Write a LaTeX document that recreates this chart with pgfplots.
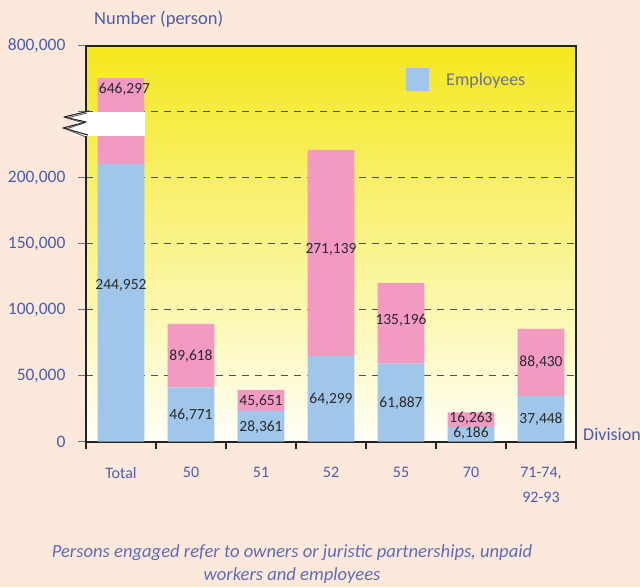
\documentclass[border=0pt]{standalone}
\usepackage{pgfplots}
\pgfplotsset{compat=1.18}
\usepackage{fontspec}
\setmainfont{Carlito}
\definecolor{bgpeach}{HTML}{FDE8DC}
\definecolor{barblue}{HTML}{A0C7EA}
\definecolor{barpink}{HTML}{F29AC2}
\definecolor{labblue}{HTML}{4B5DAA}
\definecolor{capblue}{HTML}{5F6DB6}
\definecolor{leggray}{HTML}{6B7394}
\definecolor{gridcol}{HTML}{505050}
\definecolor{axiscol}{HTML}{222222}
\definecolor{tickgray}{HTML}{707070}
\definecolor{gradtop}{HTML}{F4E81C}
\definecolor{gradmid}{HTML}{FAF3AE}
\definecolor{gradbot}{HTML}{FFFFF8}
\definecolor{valtext}{HTML}{2A2A2A}
\tikzset{val/.style={font=\fontsize{15.5}{17}\selectfont, text=valtext, inner sep=0pt}}
\begin{document}
\begin{tikzpicture}
\fill[bgpeach] (0,0) rectangle (640pt,587pt);
\useasboundingbox (0,0) rectangle (640pt,587pt);
\begin{axis}[
  at={(86pt,145.3pt)}, anchor=south west,
  width=490pt, height=396pt, scale only axis,
  xmin=-0.5, xmax=6.5, ymin=0, ymax=300000,
  enlargelimits=false, clip=false,
  ybar stacked, bar width=0.67,
  axis background/.style={shade, top color=gradtop, middle color=gradmid, bottom color=gradbot},
  axis line style={line width=2pt, draw=axiscol},
  tick pos=left, tick align=outside,
  major tick length=8pt, minor tick length=7pt,
  xtick={0,...,6},
  xticklabels={Total,50,51,52,55,70,{71-74,\\92-93}},
  xticklabel style={align=center, font=\fontsize{16}{25}\selectfont, text=labblue, yshift=-14pt},
  major x tick style={draw=none},
  minor xtick={-0.5,0.5,...,6.5},
  minor x tick style={line width=2pt, draw=axiscol},
  scaled y ticks=false,
  ytick={0,50000,100000,150000,200000,250000,300000},
  yticklabels={0,{50,000},{100,000},{150,000},{200,000},,{800,000}},
  yticklabel style={font=\fontsize{17.5}{20}\selectfont, text=labblue, xshift=-9pt},
  ytick style={line width=1.3pt, draw=tickgray},
  ymajorgrids,
  major grid style={line width=1.3pt, draw=gridcol, dash pattern=on 7pt off 6pt},
  legend style={draw=none, fill=none, inner sep=0pt, at={(0.6531,0.9146)}, anchor=west,
    font=\fontsize{18}{20}\selectfont, text=leggray,
    nodes={inner sep=0pt},
    /tikz/every odd column/.append style={column sep=17pt}},
  legend image code/.code={\fill[barblue] (0pt,-11.5pt) rectangle (23pt,11.5pt);},
]
% bar heights as drawn in the reference (its bars are not to scale with the printed values)
\addplot[fill=barblue, draw=none]
  coordinates {(0,210400) (1,41200) (2,23300) (3,64900) (4,59400) (5,11100) (6,34600)};
\addlegendentry{Employees}
\addplot[fill=barpink, draw=none, forget plot]
  coordinates {(0,65100) (1,48000) (2,15900) (3,156100) (4,60800) (5,11200) (6,50800)};
% anchors of the printed values
\coordinate (v1) at (axis cs:0.05,267200);
\coordinate (v2) at (axis cs:0,118700);
\coordinate (v3) at (axis cs:1,64900);
\coordinate (v4) at (axis cs:1,19700);
\coordinate (v5) at (axis cs:2,30300);
\coordinate (v6) at (axis cs:2,10900);
\coordinate (v7) at (axis cs:3,146000);
\coordinate (v8) at (axis cs:3,32300);
\coordinate (v9) at (axis cs:4,92200);
\coordinate (v10) at (axis cs:4,29300);
\coordinate (v11) at (axis cs:5,18000);
\coordinate (v12) at (axis cs:5,6800);
\coordinate (v13) at (axis cs:6,60400);
\coordinate (v14) at (axis cs:6,17200);
\end{axis}
\node[val] at (v1) {646,297};
\node[val] at (v2) {244,952};
\node[val] at (v3) {89,618};
\node[val] at (v4) {46,771};
\node[val] at (v5) {45,651};
\node[val] at (v6) {28,361};
\node[val] at (v7) {271,139};
\node[val] at (v8) {64,299};
\node[val] at (v9) {135,196};
\node[val] at (v10) {61,887};
\node[val] at (v11) {16,263};
\node[val] at (v12) {6,186};
\node[val] at (v13) {88,430};
\node[val] at (v14) {37,448};
% axis break
\fill[white] (73pt,451pt) rectangle (145pt,475pt);
\draw[line width=1.1pt, black!85, line join=round] (89pt,476pt) -- (64pt,470pt) -- (86pt,465pt) -- (63pt,459pt) -- (88pt,452pt);
\draw[line width=0.8pt, black!70, line join=round] (87pt,474pt) -- (67pt,469pt) -- (84pt,464pt) -- (66pt,458pt) -- (86pt,450pt);
% titles
\node[anchor=west, inner sep=0pt, font=\fontsize{18.5}{20}\selectfont, text=labblue] at (94pt,567.5pt) {Number (person)};
\node[anchor=west, inner sep=0pt, font=\fontsize{18}{20}\selectfont, text=labblue] at (583pt,153pt) {Division};
\node[align=center, inner sep=0pt, font=\fontsize{18.6}{23}\selectfont\itshape, text=capblue] at (292pt,23pt)
  {Persons engaged refer to owners or juristic partnerships, unpaid\\workers and employees};
\end{tikzpicture}
\end{document}
